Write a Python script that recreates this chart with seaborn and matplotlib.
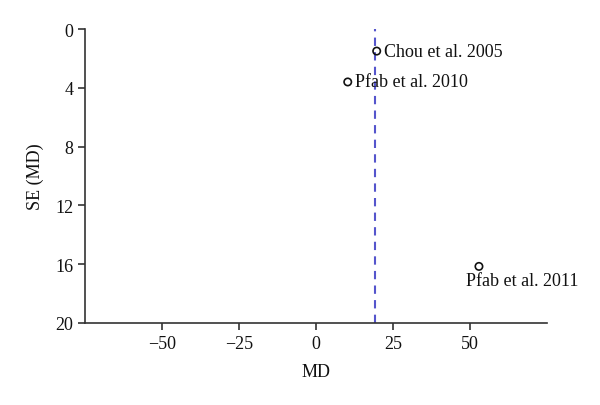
"""Funnel plot: SE(MD) against MD for the three included studies."""

import matplotlib
matplotlib.use("Agg")
import matplotlib.pyplot as plt
import pandas as pd
import seaborn as sns

STUDIES = ["Chou et al. 2005", "Pfab et al. 2010", "Pfab et al. 2011"]
MD = [19.7, 10.3, 52.9]
SE = [1.5, 3.6, 16.15]
POOLED_MD = 19.1
X_TICKS = [-50, -25, 0, 25, 50]
Y_TICKS = [0, 4, 8, 12, 16, 20]

df = pd.DataFrame({"study": STUDIES, "MD": MD, "SE": SE})

sns.set_style("ticks")
plt.rcParams["font.family"] = ["Liberation Serif", "DejaVu Serif"]
plt.rcParams["axes.edgecolor"] = "#333333"

FS = 13

fig = plt.figure(figsize=(6.0, 4.06), dpi=100)
ax = fig.add_axes([0.1417, 0.202, 0.77, 0.724])

ax.axvline(POOLED_MD, color="#5555cc", linestyle=(0, (4, 3)), linewidth=1.5, zorder=1)
sns.scatterplot(data=df, x="MD", y="SE", ax=ax, marker="o", s=28,
                facecolor="none", edgecolor="#111111", linewidth=1.2, zorder=3)

offsets = [(5, 0, "left", "center"), (5, 0, "left", "center"), (-9, -4, "left", "top")]
for (name, x, y), (dx, dy, ha, va) in zip(df[["study", "MD", "SE"]].values, offsets):
    ax.annotate(name, (x, y), xytext=(dx, dy), textcoords="offset points",
                ha=ha, va=va, fontsize=FS, color="#111111")

ax.set_xlim(-75, 75)
ax.set_ylim(20, 0)
ax.set_xticks(X_TICKS)
ax.set_xticklabels(["\u221250", "\u221225", "0", "25", "50"])
ax.set_yticks(Y_TICKS)
ax.tick_params(labelsize=FS, length=5, width=1.2, colors="#333333", labelcolor="#111111")
ax.set_xlabel("MD", fontsize=FS, color="#111111", labelpad=8)
ax.set_ylabel("SE (MD)", fontsize=FS, color="#111111", labelpad=8)
for side in ["left", "bottom"]:
    ax.spines[side].set_linewidth(1.2)
sns.despine(ax=ax)

fig.savefig("out.png", dpi=100)
